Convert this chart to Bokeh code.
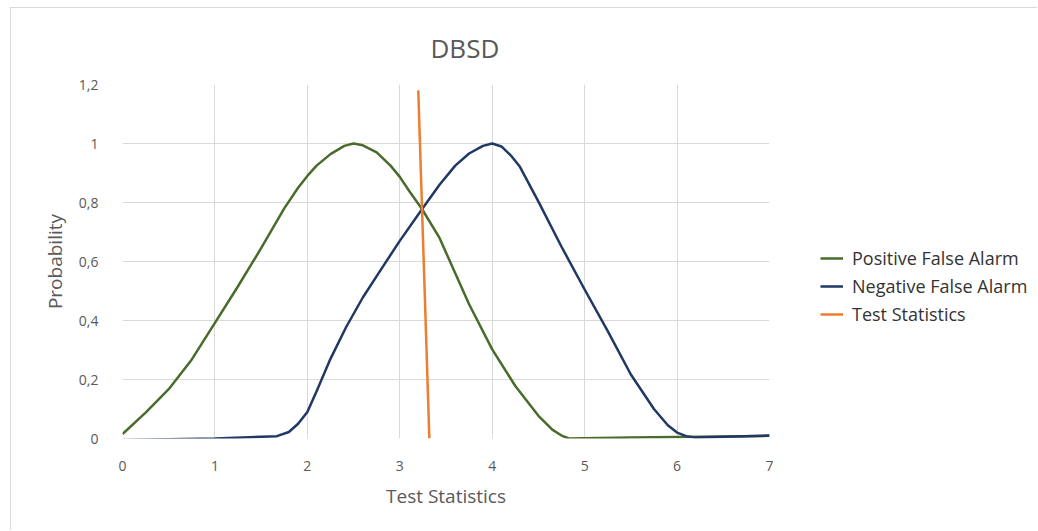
from bokeh.plotting import figure
from bokeh.layouts import row
from bokeh.models import (Legend, LegendItem, FixedTicker, CustomJSTickFormatter, Range1d)
from bokeh.embed import file_html
from bokeh.resources import INLINE

# ---- data ----
pos_x = [0, 0.25, 0.5, 0.75, 1, 1.25, 1.5, 1.75, 1.9, 2, 2.1, 2.25, 2.4, 2.5, 2.6,
         2.75, 2.9, 3, 3.1, 3.24, 3.43, 3.6, 3.75, 4, 4.25, 4.5, 4.65, 4.75, 4.83,
         5.5, 6, 6.5, 7]
pos_y = [0.015, 0.088, 0.167, 0.268, 0.392, 0.516, 0.645, 0.78, 0.85, 0.89, 0.925,
         0.964, 0.992, 1.0, 0.994, 0.97, 0.925, 0.887, 0.84, 0.778, 0.68, 0.56,
         0.455, 0.302, 0.178, 0.077, 0.03, 0.01, 0.0, 0.003, 0.005, 0.007, 0.009]

neg_x = [0, 1, 1.67, 1.8, 1.9, 2.0, 2.1, 2.25, 2.42, 2.6, 2.78, 3, 3.24, 3.43,
         3.6, 3.75, 3.9, 4, 4.1, 4.2, 4.3, 4.5, 4.75, 5, 5.25, 5.5, 5.75, 5.9, 6,
         6.1, 6.2, 7]
neg_y = [-0.005, 0.0, 0.008, 0.022, 0.05, 0.09, 0.16, 0.27, 0.378, 0.478, 0.565,
         0.67, 0.777, 0.86, 0.925, 0.966, 0.992, 1.0, 0.99, 0.96, 0.921, 0.803,
         0.65, 0.505, 0.364, 0.217, 0.1, 0.045, 0.02, 0.008, 0.003, 0.01]

test_x = [3.2, 3.32]
test_y = [1.18, 0.0]

x_ticks = [0, 1, 2, 3, 4, 5, 6, 7]
y_ticks = [0, 0.2, 0.4, 0.6, 0.8, 1.0, 1.2]

title_text = "DBSD"
x_label = "Test Statistics"
y_label = "Probability"
series_names = ["Positive False Alarm", "Negative False Alarm", "Test Statistics"]

# ---- styling ----
FONT = "Open Sans"
GREY = "#595959"
GREEN = "#4a6b2b"
BLUE = "#1f3864"
ORANGE = "#ed7d31"
colors = [GREEN, BLUE, ORANGE]

# canvas offset on page (margin + border of the chart frame)
OX, OY = 11, 8
W, H = 1026, 522
W1 = 762  # main chart width
B_TOP = 83 - OY
B_BOTTOM = H - (438 - OY)
p = figure(width=W1, height=H, output_backend="svg", toolbar_location=None,
           x_range=Range1d(0, 7), y_range=Range1d(0, 1.2),
           min_border_left=122 - OX, min_border_right=W1 - (769 - OX),
           min_border_top=B_TOP, min_border_bottom=B_BOTTOM)

p.title.text = title_text
p.title.align = "left"
p.title.offset = 308
p.title.text_font = FONT
p.title.text_font_size = "26px"
p.title.text_font_style = "normal"
p.title.text_color = GREY
p.title.standoff = 38

p.outline_line_color = None
p.background_fill_color = "white"
p.border_fill_color = "white"

for ax in (p.xaxis[0], p.yaxis[0]):
    ax.axis_line_color = None
    ax.major_tick_line_color = None
    ax.minor_tick_line_color = None
    ax.major_label_text_font = FONT
    ax.major_label_text_font_size = "14px"
    ax.major_label_text_color = GREY
    ax.axis_label_text_font = FONT
    ax.axis_label_text_font_size = "19px"
    ax.axis_label_text_font_style = "normal"
    ax.axis_label_text_color = GREY

p.xaxis.ticker = FixedTicker(ticks=x_ticks)
p.yaxis.ticker = FixedTicker(ticks=y_ticks)
p.yaxis.formatter = CustomJSTickFormatter(
    code="var s = tick.toFixed(1); if (s.endsWith('.0')) s = s.slice(0, -2); return s.replace('.', ',');")
p.xaxis.major_label_standoff = 16
p.yaxis.major_label_standoff = 18
p.xaxis.axis_label = x_label
p.yaxis.axis_label = y_label
p.xaxis.axis_label_standoff = 9
p.yaxis.axis_label_standoff = 8

p.xgrid.grid_line_color = "#d9d9d9"
p.ygrid.grid_line_color = "#d9d9d9"
p.xgrid.grid_line_width = 1
p.ygrid.grid_line_width = 1

p.line(pos_x, pos_y, line_color=GREEN, line_width=2.5, line_join="round")
p.line(neg_x, neg_y, line_color=BLUE, line_width=2.5, line_join="round")
p.line(test_x, test_y, line_color=ORANGE, line_width=2.5)

# legend panel to the right of the chart (its frame is aligned with the chart's)
W2 = W - W1
q = figure(width=W2, height=H, output_backend="svg", toolbar_location=None,
           x_axis_location=None, y_axis_location=None,
           x_range=Range1d(0, 1), y_range=Range1d(0, 1),
           min_border_left=0, min_border_right=0,
           min_border_top=B_TOP, min_border_bottom=B_BOTTOM)
q.outline_line_color = None
q.xgrid.visible = False
q.ygrid.visible = False
q.border_fill_color = "white"
q.background_fill_color = "white"

items = []
for name, c in zip(series_names, colors):
    r = q.line([-5, -4], [-5, -4], line_color=c, line_width=2.5)
    items.append(LegendItem(label=name, renderers=[r]))

legend = Legend(items=items, location=(820 - OX - W1, 112), orientation="vertical",
                padding=0, margin=0, spacing=4,
                glyph_width=23, glyph_height=20, label_height=20,
                label_standoff=9,
                label_text_font=FONT, label_text_font_size="18px",
                label_text_color="#333333",
                border_line_color=None, background_fill_alpha=0)
q.add_layout(legend, "center")

layout = row(p, q)
layout.styles = {"margin-left": "10px", "margin-top": "7px",
                 "border-left": "1px solid #d9d9d9", "border-top": "1px solid #d9d9d9"}

open("out.html", "w").write(file_html(layout, INLINE))
